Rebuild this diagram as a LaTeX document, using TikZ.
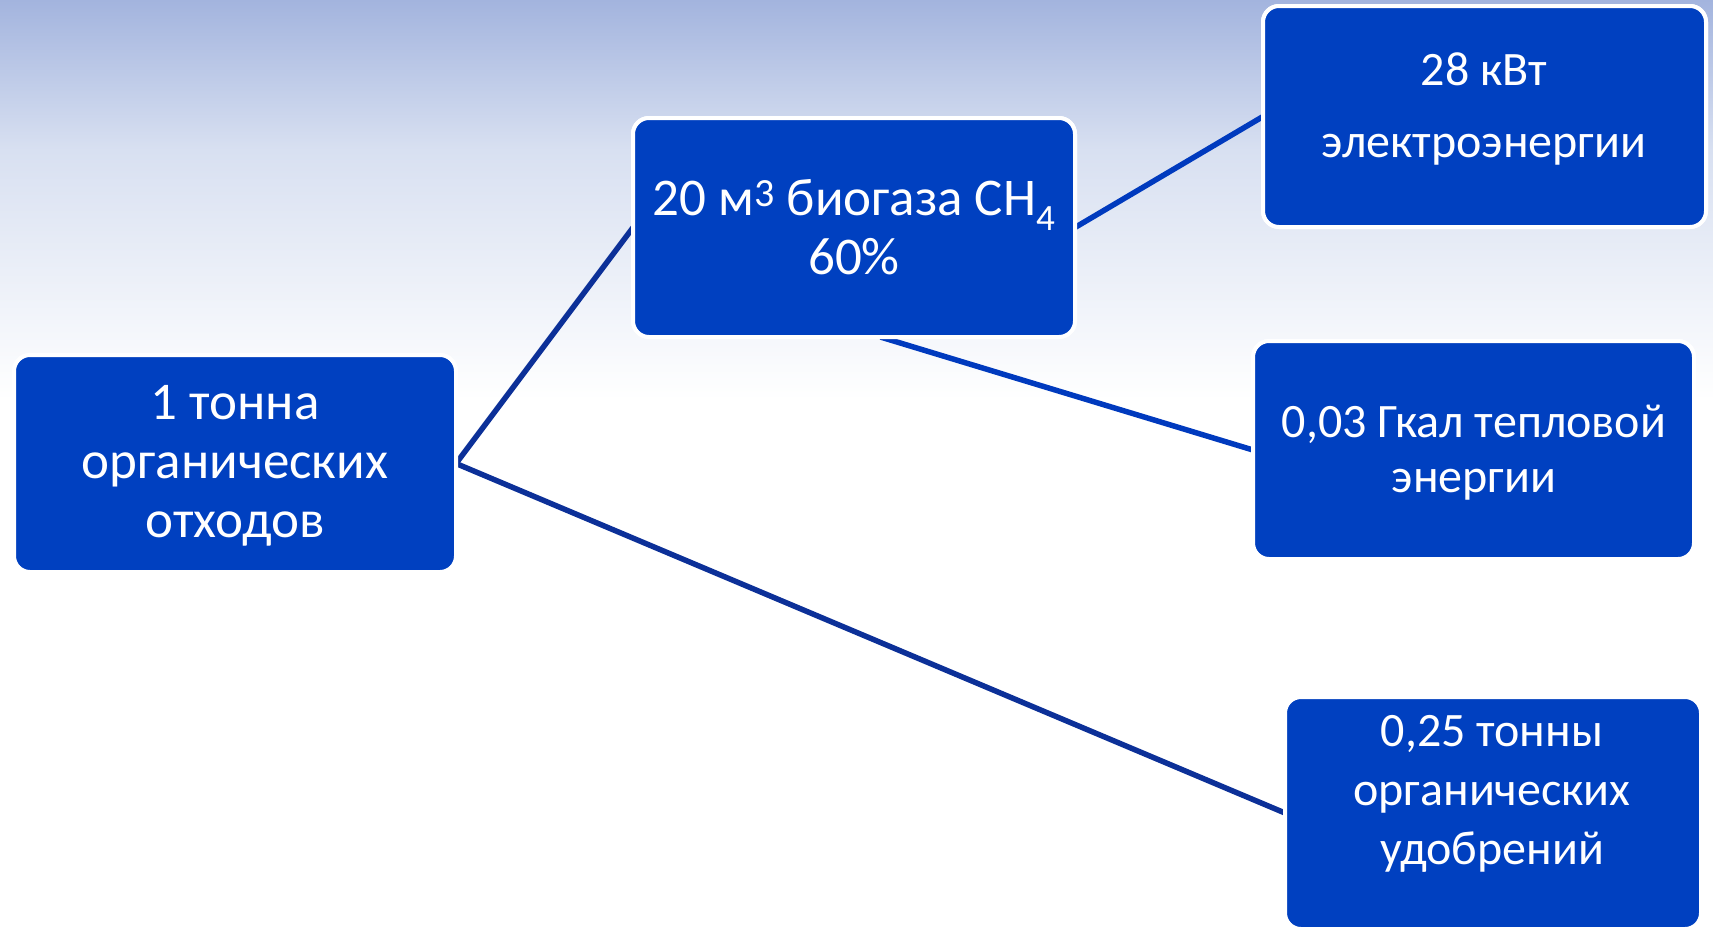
\documentclass[tikz,border=0pt]{standalone}
\usepackage{fontspec}
\setmainfont{Carlito}
\usetikzlibrary{calc}
\definecolor{boxblue}{RGB}{0,64,192}
\definecolor{linedark}{RGB}{12,48,152}
\definecolor{linebright}{RGB}{0,58,190}
\definecolor{bgtop}{RGB}{163,180,222}
\definecolor{bgmid}{RGB}{216,224,241}
\tikzset{
  blbox/.style={draw=white, line width=4pt, fill=boxblue, rounded corners=16pt, inner sep=0pt, outer sep=0pt, anchor=north west},
  btext/.style={text=white, font=\fontsize{53}{59}\selectfont, align=center, inner sep=0pt},
  stext/.style={text=white, font=\fontsize{48}{55}\selectfont, align=center, inner sep=0pt},
  conn/.style={line width=5.5pt},
}
\begin{document}
\begin{tikzpicture}[x=1pt,y=-1pt]
\useasboundingbox (0,0) rectangle (1713,930);
% background
\fill[white] (0,0) rectangle (1713,930);
\shade[top color=bgtop, bottom color=bgmid] (0,0) rectangle (1713,150);
\shade[top color=bgmid, bottom color=white] (0,150) rectangle (1713,400);
% boxes (positions for connectors)
\node[blbox, minimum width=442pt, minimum height=217pt] (boxA) at (14,355) {};
\node[blbox, minimum width=442pt, minimum height=219pt] (boxB) at (633,118) {};
\node[blbox, minimum width=443pt, minimum height=221pt] (boxC) at (1263,6) {};
\node[blbox, minimum width=441pt, minimum height=218pt] (boxD) at (1253,341) {};
\node[blbox, minimum width=416pt, minimum height=232pt] (boxE) at (1285,697) {};
% connectors
\draw[conn, linedark] (boxA.east) -- (boxB.west);
\draw[conn, linebright] (boxB.east) -- (boxC.west);
\draw[conn, linebright] ($(boxB.south west)!0.56!(boxB.south east)$) -- (boxD.west);
\draw[conn, linedark] (boxA.east) -- (boxE.west);
% redraw boxes over connector ends
\node[blbox, minimum width=442pt, minimum height=217pt] (boxA2) at (14,355) {};
\node[blbox, minimum width=442pt, minimum height=219pt] (boxB2) at (633,118) {};
\node[blbox, minimum width=443pt, minimum height=221pt] (boxC2) at (1263,6) {};
\node[blbox, minimum width=441pt, minimum height=218pt] (boxD2) at (1253,341) {};
\node[blbox, minimum width=416pt, minimum height=232pt] (boxE2) at (1285,697) {};
% texts
\node[btext] (tA) at (235,466) {1 тонна\\органических\\отходов};
\node[btext] (tB) at (854,227) {20 м\textsuperscript{\fontsize{40}{40}\selectfont 3} биогаза CH\textsubscript{4}\\60\%};
\node[stext] (tC1) at (1484,69) {28 кВт};
\node[stext] (tC2) at (1484,150) {электроэнергии};
\node[stext] (tD) at (1474,453) {0,03 Гкал тепловой\\энергии};
\node[stext, font=\fontsize{48}{59}\selectfont] (tE) at (1492,794) {0,25 тонны\\органических\\удобрений};
\end{tikzpicture}
\end{document}
